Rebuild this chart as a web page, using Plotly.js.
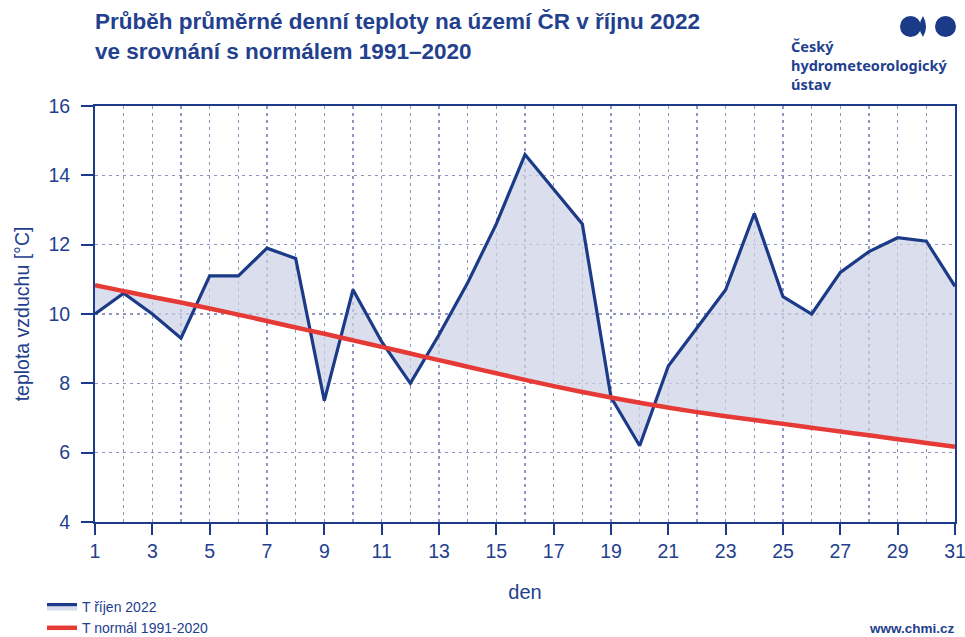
<!DOCTYPE html>
<html>
<head>
<meta charset="utf-8">
<script src="https://cdn.plot.ly/plotly-3.0.1.min.js"></script>
<style>html,body{margin:0;padding:0;background:#fff;}#chart{width:965px;height:637px;}</style>
</head>
<body>
<div id="chart"></div>
<script>
const days = [1,2,3,4,5,6,7,8,9,10,11,12,13,14,15,16,17,18,19,20,21,22,23,24,25,26,27,28,29,30,31];
const tOctober2022 = [10.0,10.6,10.0,9.3,11.1,11.1,11.9,11.6,7.5,10.7,9.2,8.0,9.4,10.9,12.6,14.6,13.6,12.6,7.6,6.2,8.5,9.6,10.7,12.9,10.5,10.0,11.2,11.8,12.2,12.1,10.8];
const tNormal = [10.83,10.66,10.49,10.33,10.16,9.98,9.80,9.61,9.43,9.24,9.05,8.86,8.67,8.48,8.29,8.10,7.92,7.75,7.59,7.44,7.30,7.17,7.05,6.94,6.83,6.72,6.61,6.50,6.39,6.28,6.17];
const xTickVals = [1,3,5,7,9,11,13,15,17,19,21,23,25,27,29,31];
const yTickVals = [4,6,8,10,12,14,16];

const NAVY = '#1b3a87';
const TXT = '#23408e';
const RED = '#e63a37';
const GRID = '#8f96c2';

const traces = [
  {x: days, y: tNormal, type: 'scatter', mode: 'lines', line: {width: 0, color: RED},
   showlegend: false, hoverinfo: 'skip'},
  {x: days, y: tOctober2022, type: 'scatter', mode: 'lines', name: 'T říjen 2022',
   line: {color: NAVY, width: 3.2}, fill: 'tonexty', fillcolor: 'rgba(205,209,228,0.72)'},
  {x: days, y: tNormal, type: 'scatter', mode: 'lines', name: 'T normál 1991-2020',
   line: {color: RED, width: 4.5, shape: 'spline'}}
];

// paper coordinate helpers for logo shapes
const L = 95, R = 955, T = 106, B = 522;
const px = v => (v - L) / (R - L);
const py = v => (B - v) / (B - T);

const layout = {
  width: 965, height: 637,
  margin: {l: L, r: 965 - R, t: T, b: 637 - B, autoexpand: false},
  paper_bgcolor: '#ffffff', plot_bgcolor: '#ffffff',
  font: {family: 'Liberation Sans, Arial, sans-serif', color: TXT},
  title: {
    text: 'Průběh průměrné denní teploty na území ČR v říjnu 2022<br>ve srovnání s normálem 1991–2020',
    font: {family: 'Liberation Sans, Arial, sans-serif', size: 22.5, color: TXT, weight: 'bold'},
    x: L / 965, xanchor: 'left', xref: 'container',
    y: 0.954, yanchor: 'top', yref: 'container'
  },
  xaxis: {
    range: [0.9999, 31.0001], tickvals: xTickVals, ticktext: xTickVals.map(String),
    automargin: false, ticklabeloverflow: 'allow',
    showline: true, linecolor: NAVY, linewidth: 2, mirror: true,
    ticks: 'outside', ticklen: 11, tickwidth: 2, tickcolor: NAVY,
    tickfont: {size: 19.5, color: TXT},
    showgrid: true, gridcolor: GRID, gridwidth: 1.3, griddash: '3px,4px',
    minor: {dtick: 1, tick0: 0, showgrid: true, gridcolor: GRID, gridwidth: 1.3, griddash: '3px,4px', ticks: ''},
    zeroline: false,
    title: {text: 'den', font: {size: 20, color: TXT}, standoff: 24}
  },
  yaxis: {
    range: [4, 16], tickvals: yTickVals, automargin: false, ticklabelstandoff: 7,
    showline: true, linecolor: NAVY, linewidth: 2, mirror: true,
    ticks: 'outside', ticklen: 12, tickwidth: 2, tickcolor: NAVY,
    tickfont: {size: 19.5, color: TXT},
    showgrid: true, gridcolor: GRID, gridwidth: 1.3, griddash: '3px,4px',
    zeroline: false,
    title: {text: 'teplota vzduchu [°C]', font: {size: 19.5, color: TXT}, standoff: 14}
  },
  legend: {
    x: (42 - L) / (R - L), xanchor: 'left', y: py(591), yanchor: 'top',
    orientation: 'v', traceorder: 'normal',
    font: {family: 'Liberation Sans, Arial, sans-serif', size: 14, color: TXT},
    bgcolor: 'rgba(0,0,0,0)', tracegroupgap: 0, itemwidth: 30
  },
  annotations: [
    {text: '<b>Český<br>hydrometeorologický<br>ústav</b>', xref: 'paper', yref: 'paper',
     x: px(789), y: py(34), xanchor: 'left', yanchor: 'top', align: 'left', showarrow: false,
     font: {family: 'Noto Sans, sans-serif', size: 14.5, color: TXT}},
    {text: '<b>www.chmi.cz</b>', xref: 'paper', yref: 'paper',
     x: px(957), y: py(628), xanchor: 'right', yanchor: 'middle', showarrow: false,
     font: {family: 'Liberation Sans, Arial, sans-serif', size: 13.5, color: TXT}}
  ],
  shapes: [
    {type: 'circle', xref: 'paper', yref: 'paper', x0: px(900), x1: px(921), y0: py(37), y1: py(16),
     fillcolor: NAVY, line: {width: 0}},
    {type: 'path', xref: 'paper', yref: 'paper',
     path: `M ${px(923)} ${py(16)} Q ${px(916)} ${py(26.5)} ${px(923)} ${py(37)} Q ${px(929)} ${py(26.5)} ${px(923)} ${py(16)} Z`,
     fillcolor: NAVY, line: {width: 0}},
    {type: 'circle', xref: 'paper', yref: 'paper', x0: px(935), x1: px(956), y0: py(37), y1: py(16),
     fillcolor: NAVY, line: {width: 0}}
  ],
  showlegend: true
};

Plotly.newPlot('chart', traces, layout, {displayModeBar: false, staticPlot: true});
</script>
</body>
</html>
